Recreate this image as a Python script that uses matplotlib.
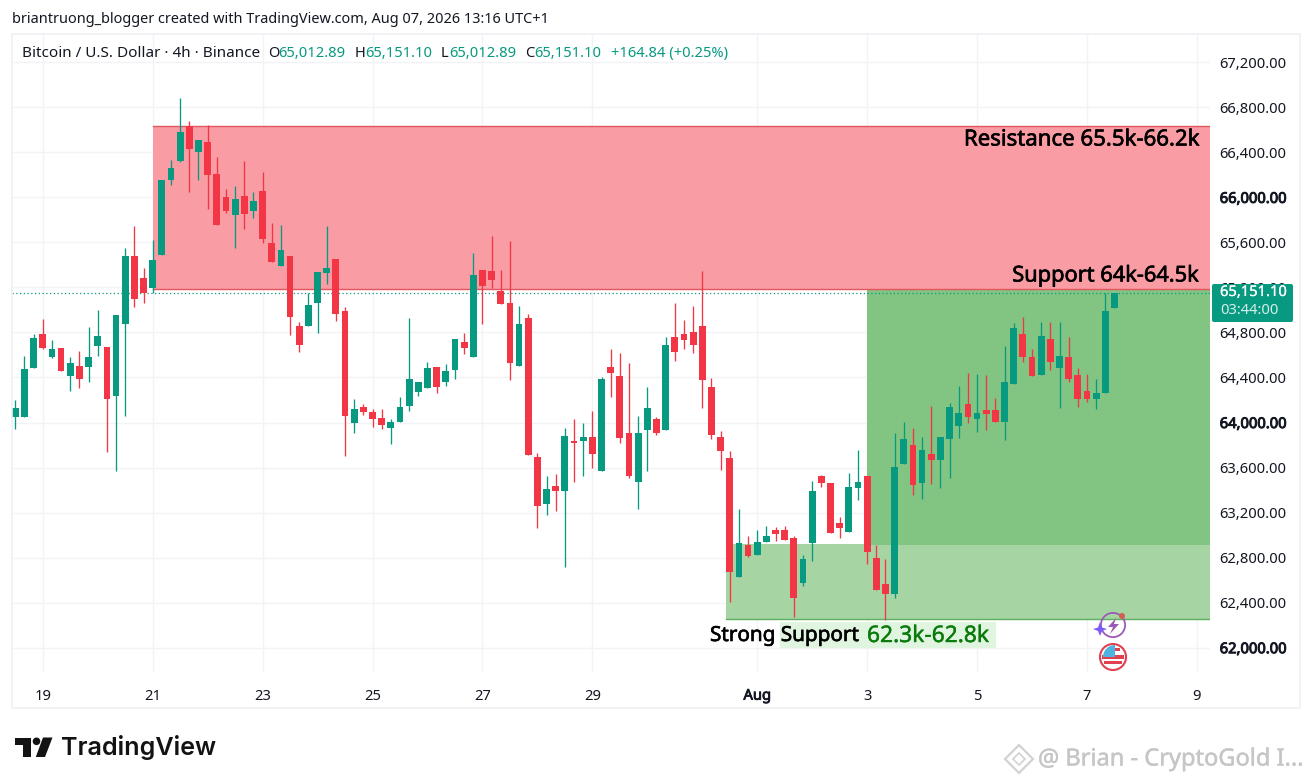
import numpy as np
import matplotlib
matplotlib.use('Agg')
import matplotlib.pyplot as plt
import matplotlib.patheffects as pe
from matplotlib.patches import Rectangle, Polygon, Circle, FancyBboxPatch, Wedge

plt.rcParams['font.family'] = ['Noto Sans', 'DejaVu Sans']

# 4h candles
opens = [64052,64052,64487,64786,64585,64659,64413,64502,64496,64680,
         64673,64238,64878,65476,65284,65195,65488,66154,66326,66636,
         66406,66489,66205,66003,65843,66009,65881,66056,65592,65393,
         65476,64857,64860,65062,65331,65452,64990,63998,64135,64093,
         64040,63951,64002,64144,64271,64309,64490,64360,64469,64715,
         64585,65352,65343,65165,65059,64505,64926,63691,63279,63439,
         63394,63838,63836,63874,63569,64493,64416,63907,63469,63936,
         64031,63933,64757,64783,64807,64857,64315,63874,63682,62630,
         62909,62823,62936,63042,63048,62974,62574,62927,63522,63465,
         63107,63025,63421,63525,62796,62565,62477,63634,63797,63465,
         63718,63667,63853,63969,64164,64034,64111,64108,64007,64345,
         64783,64582,64419,64744,64481,64579,64422,64282,64206,64259,
         65012.89]
highs = [64200,64591,64786,64917,64733,64659,64585,64635,64851,64999,
         64673,64958,65547,65748,65375,65621,66151,66332,66885,66681,
         66510,66643,66356,66072,66101,66320,66045,66223,65775,65752,
         65476,64895,65148,65334,65746,65452,65023,64206,64164,64117,
         64117,64031,64224,64926,64357,64540,64490,64517,64739,64792,
         65508,65352,65659,65355,65615,65038,64964,63726,63522,63540,
         63948,64031,63998,64105,64404,64653,64615,64531,64055,64315,
         64052,64757,65059,64908,65035,65346,64393,63922,63750,63229,
         62992,63045,63081,63074,63081,62992,62823,63483,63536,63465,
         63158,63549,63756,63525,62912,62785,63909,64002,63948,63874,
         64147,63871,64171,64324,64442,64431,64422,64215,64680,64887,
         64934,64650,64895,64893,64890,64757,64481,64431,64386,65148,
         65151.10]
lows = [63942,64049,64484,64653,64570,64460,64282,64309,64362,64593,
        63735,63572,64060,65029,65064,65148,65488,66110,66317,66045,
        66154,65897,65754,65858,65553,65719,65814,65592,65428,65393,
        64777,64629,64860,64792,65230,64904,63705,63909,64069,63957,
        63940,63809,64002,64105,64235,64309,64265,64327,64384,64608,
        64585,64875,65192,65053,64378,64505,63711,63060,63181,63217,
        62719,63474,63525,63598,63569,64229,63821,63504,63229,63569,
        63886,63933,64544,64650,64620,64126,63851,63578,62408,62630,
        62803,62823,62936,62947,62956,62275,62550,62770,63427,63018,
        62971,63025,63312,62743,62512,62246,62438,63634,63356,63318,
        63454,63415,63510,63860,63993,63918,63933,64007,63845,64345,
        64540,64416,64419,64466,64126,64362,64140,64185,64120,64259,
        65012.89]
closes = [64126,64475,64748,64659,64650,64460,64526,64386,64579,64768,
          64209,64958,65476,65097,65153,65441,66151,66258,66578,66430,
          66507,66199,65754,65879,65985,65855,65965,65630,65428,65532,
          64937,64686,65044,65334,65375,64961,64060,64123,64093,64034,
          63978,64004,64138,64384,64357,64481,64318,64457,64739,64662,
          65310,65213,65263,65053,64526,64875,63711,63261,63407,63394,
          63880,63818,63874,63720,64384,64440,63860,63525,63907,64126,
          63909,64688,64624,64736,64691,64380,63892,63750,62675,62927,
          62817,62936,62992,63010,62956,62444,62787,63392,63463,63018,
          63063,63430,63474,62852,62512,62477,63602,63856,63445,63756,
          63667,63871,64140,64082,64046,64082,64078,64007,64360,64837,
          64579,64416,64766,64540,64588,64384,64211,64211,64265,64990,
          65151.10]

# zones as price ranges, start given as bar index
resistance_zone = (15.0, 65186, 66638)
support_zone = (93.0, 62912, 65186)
strong_zone = (77.6, 62254, 62925)
last_price = 65151.10

price_ticks = list(range(62000, 67600, 400))
bold_ticks = [62000, 64000, 66000]
date_positions = [3, 15, 27, 39, 51, 63, 81, 93, 105, 117, 129]
date_labels = ['19', '21', '23', '25', '27', '29', 'Aug', '3', '5', '7', '9']

UP = '#089981'
DOWN = '#F23645'
TEXT = '#131722'
GRID = '#F1F3F6'


def heavy(width, color='black'):
    # Noto Sans only comes in one weight here, so thicken it with a stroke
    return [pe.withStroke(linewidth=width, foreground=color)]


W, H = 1312, 784
fig = plt.figure(figsize=(W / 100, H / 100), dpi=100, facecolor='white')

# main chart panel, placed to the pixel
ax = fig.add_axes([12 / W, 1 - 672 / H, (1210 - 12) / W, (672 - 34) / H])
ax.set_xlim(-0.36, 130.43)
ax.set_ylim(61784, 67451)
for s in ax.spines.values():
    s.set_visible(False)
ax.set_axisbelow(True)
ax.grid(True, color=GRID, lw=1)

ax.yaxis.tick_right()
ax.set_xticks(date_positions)
ax.set_xticklabels(date_labels, fontsize=10.6, color=TEXT)
for lab, name in zip(ax.get_xticklabels(), date_labels):
    if name == 'Aug':
        lab.set_path_effects(heavy(0.6, TEXT))
ax.set_yticks(price_ticks)
ax.set_yticklabels([f'{p:,.2f}' for p in price_ticks], fontsize=10.6, color=TEXT)
for tick, p in zip(ax.yaxis.get_major_ticks(), price_ticks):
    if p in bold_ticks:
        tick.label2.set_path_effects(heavy(0.7, TEXT))
ax.tick_params(axis='y', length=0, pad=7)
ax.tick_params(axis='x', length=0, pad=12)

x_end = ax.get_xlim()[1]
ax.add_patch(Rectangle((resistance_zone[0], resistance_zone[1]), x_end - resistance_zone[0],
                       resistance_zone[2] - resistance_zone[1], fc='#F99CA3', ec='none', zorder=1))
ax.plot([resistance_zone[0], x_end], [resistance_zone[2]] * 2, color='#E2575F', lw=1, zorder=1.2)
ax.plot([resistance_zone[0], x_end], [resistance_zone[1]] * 2, color='#E2575F', lw=1, zorder=1.2)
ax.add_patch(Rectangle((strong_zone[0], strong_zone[1]), x_end - strong_zone[0],
                       strong_zone[2] - strong_zone[1], fc='#A6D5A3', ec='none', zorder=1))
ax.plot([strong_zone[0], x_end], [strong_zone[1]] * 2, color='#5DB05F', lw=1, zorder=1.2)
ax.add_patch(Rectangle((support_zone[0], support_zone[1]), x_end - support_zone[0],
                       support_zone[2] - support_zone[1], fc='#82C482', ec='none', zorder=1.1))
ax.axhline(last_price, color=UP, lw=0.9, ls=(0, (1, 2)), zorder=1.5)

idx = np.arange(len(closes))
o, h, l, c = map(np.array, (opens, highs, lows, closes))
colors = [UP if c[i] >= o[i] else DOWN for i in idx]
ax.vlines(idx, l, h, colors=colors, lw=0.95, zorder=2)
ax.bar(idx, np.maximum(np.abs(c - o), 8), bottom=np.minimum(o, c), width=0.74, color=colors, zorder=3)

ov = fig.add_axes([0, 0, 1, 1], facecolor='none')
ov.set_xlim(0, W)
ov.set_ylim(H, 0)
ov.axis('off')

# outer frame of the screenshot
ov.add_patch(Rectangle((12, 34), 1288, 674, fc='none', ec='#EEF0F4', lw=1.2))

# header lines
ov.text(12, 19, 'briantruong_blogger created with TradingView.com, Aug 07, 2026 13:16 UTC+1',
        fontsize=10.45, color=TEXT, va='center')
ov.text(22, 53, 'Bitcoin / U.S. Dollar · 4h · Binance', fontsize=11, color=TEXT, va='center')
for x_lab, lab, x_val, val in [(268, 'O', 278, '65,012.89'), (355, 'H', 365, '65,151.10'),
                               (441, 'L', 449, '65,012.89'), (525, 'C', 534, '65,151.10')]:
    ov.text(x_lab, 53, lab, fontsize=10.6, color=TEXT, va='center')
    ov.text(x_val, 53, val, fontsize=10.6, color=UP, va='center')
ov.text(611, 53, '+164.84 (+0.25%)', fontsize=10.6, color=UP, va='center')

# price tag
ov.add_patch(FancyBboxPatch((1212, 284), 81, 38, boxstyle='round,pad=0,rounding_size=2', fc=UP, ec='none'))
ov.text(1220, 292.5, '65,151.10', fontsize=10.6, color='white', va='center', path_effects=heavy(0.15, 'white'))
ov.text(1220, 310.5, '03:44:00', fontsize=10.6, color='#D5EFEA', va='center')

# annotations pasted on the chart
ov.text(1199, 140, 'Resistance 65.5k-66.2k', fontsize=16, color='black', ha='right', va='center', path_effects=heavy(0.45))
ov.text(1199, 276, 'Support 64k-64.5k', fontsize=15.7, color='black', ha='right', va='center', path_effects=heavy(0.45))
ov.add_patch(Rectangle((780, 622), 216, 26, fc='#DFF5DF', ec='none'))
ov.text(710, 636, 'Strong Support', fontsize=14.9, color='black', va='center', path_effects=heavy(0.45))
ov.text(867, 636, '62.3k-62.8k', fontsize=16.4, color='#0B7A0B', va='center', path_effects=heavy(0.3, '#0B7A0B'))

# event icons
ov.add_patch(Wedge((1113, 625), 13, 0, 360, width=1.8, fc='#9B59B6', ec='none'))
ov.add_patch(Polygon([(1116, 618), (1108, 627), (1113, 627), (1110, 634), (1119, 624), (1114, 624)], fc='#9B59B6', ec='none'))
ov.add_patch(Polygon([(1093, 629), (1098, 627.5), (1100, 622), (1102, 627.5), (1107, 629), (1102, 631), (1100, 636), (1098, 631)],
                     fc='#7B5CFA', ec='none'))
ov.add_patch(Circle((1122, 616), 3, fc='#D0604F', ec='none'))
ov.add_patch(Circle((1113, 657), 13, fc='white', ec='#E0404F', lw=1.5))
ov.add_patch(Rectangle((1102, 655), 22, 3.5, fc='#E0404F', ec='none'))
ov.add_patch(Rectangle((1104, 661), 18, 2.5, fc='#E0404F', ec='none'))
ov.add_patch(Wedge((1115, 657), 12, 180, 270, fc='#4FB3E0', ec='none'))
ov.add_patch(Rectangle((1115, 648), 5, 3, fc='#E0404F', ec='none'))

# TradingView logo
ov.add_patch(Polygon([(14.5, 737.5), (31, 737.5), (31, 757), (22.5, 757), (22.5, 745), (14.5, 745)], fc='#131313', ec='none'))
ov.add_patch(Circle((36.5, 741.3), 3.8, fc='#131313', ec='none'))
ov.add_patch(Polygon([(43, 737.5), (52.5, 737.5), (45, 757), (35.8, 757)], fc='#131313', ec='none'))
ov.text(61, 747.5, 'TradingView', fontsize=18.1, color='#131313', va='center', fontweight='semibold',
        family=['Inter', 'Noto Sans'])

# watermark
ov.add_patch(Polygon([(1019, 745), (1033, 759), (1019, 773), (1005, 759)], fc='none', ec='#D2D2D2', lw=1.6))
ov.add_patch(Polygon([(1019, 753), (1025, 759), (1019, 765), (1013, 759)], fc='none', ec='#D2D2D2', lw=1.2))
ov.text(1038, 759.5, '@ Brian - CryptoGold I...', fontsize=17, color='#C6C6C6', va='center', path_effects=heavy(0.3, '#C6C6C6'))

fig.savefig('out.png', dpi=100, facecolor='white')
